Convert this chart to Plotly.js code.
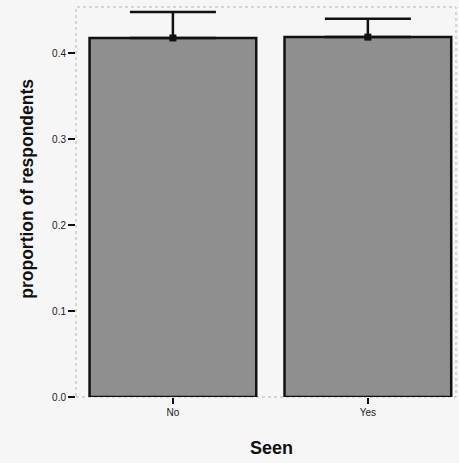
<!DOCTYPE html>
<html>
<head>
<meta charset="utf-8">
<script src="https://cdn.plot.ly/plotly-3.0.1.min.js"></script>
<style>html,body{margin:0;padding:0;background:#f6f6f6;}</style>
</head>
<body>
<div id="chart" style="width:459px;height:463px;"></div>
<script>
const categories = ["No", "Yes"];
const proportions = [0.4175, 0.4185];
const errorUp = [0.0302, 0.0212];
const yTickVals = [0.0, 0.1, 0.2, 0.3, 0.4];
const yTickText = ["0.0", "0.1", "0.2", "0.3", "0.4"];
const xTitle = "Seen";
const yTitle = "proportion of respondents";

const bars = {
  type: "bar",
  x: categories,
  y: proportions,
  width: 0.855,
  marker: {color: "#8f8f8f", line: {color: "#111", width: 2.5}},
  hoverinfo: "skip"
};
const errs = {
  type: "scatter",
  mode: "markers",
  x: categories,
  y: proportions,
  marker: {color: "#111", size: 7, symbol: "square"},
  error_y: {type: "data", array: errorUp, arrayminus: [0, 0], symmetric: false, color: "#111", thickness: 2.5, width: 43},
  hoverinfo: "skip"
};
const layout = {
  width: 459, height: 463,
  margin: {l: 76, r: 3, t: 7, b: 66},
  paper_bgcolor: "#f6f6f6",
  plot_bgcolor: "#f6f6f6",
  showlegend: false,
  font: {family: "Liberation Sans, Arial, sans-serif", color: "#222"},
  xaxis: {
    type: "category",
    range: [-0.497, 1.452],
    showgrid: false, zeroline: false, showline: false,
    ticks: "outside", ticklen: 6, tickwidth: 2, tickcolor: "#111",
    tickfont: {size: 10, color: "#222"}
  },
  yaxis: {
    range: [0, 0.4535],
    tickvals: yTickVals, ticktext: yTickText,
    showgrid: false, zeroline: false, showline: false,
    ticks: "outside", ticklen: 7, tickwidth: 2, tickcolor: "#111",
    tickfont: {size: 10, color: "#222"}
  },
  annotations: [
    {text: "<b>" + xTitle + "</b>", xref: "paper", yref: "paper", x: 0.515, y: -0.13, xanchor: "center", yanchor: "middle", showarrow: false, font: {size: 18, color: "#111"}},
    {text: "<b>" + yTitle + "</b>", xref: "paper", yref: "paper", x: -0.128, y: 0.535, xanchor: "center", yanchor: "middle", textangle: -90, showarrow: false, font: {size: 17.5, color: "#111"}}
  ],
  shapes: [{
    type: "rect", xref: "paper", yref: "paper", x0: 0, x1: 1, y0: 0, y1: 1,
    line: {color: "#b5b5b5", width: 1, dash: "dot"}, layer: "below"
  }]
};
Plotly.newPlot("chart", [bars, errs], layout, {displayModeBar: false, staticPlot: true});
</script>
</body>
</html>
